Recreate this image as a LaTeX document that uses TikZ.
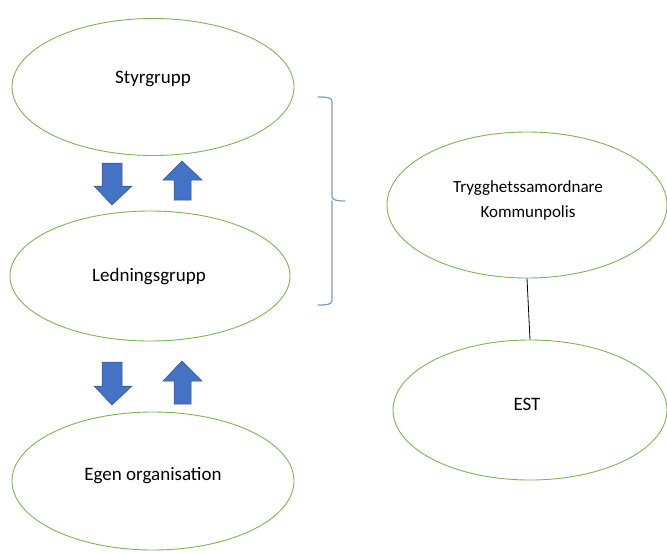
\documentclass[tikz,border=0pt]{standalone}
\usepackage{fontspec}
\setmainfont{Carlito}
\usetikzlibrary{shapes.geometric}
\definecolor{ellgreen}{RGB}{125,180,85}
\definecolor{arrowblue}{RGB}{68,114,196}
\definecolor{arrowedge}{RGB}{47,82,143}
\definecolor{bracecol}{RGB}{125,155,190}
\begin{document}
\begin{tikzpicture}[x=1pt,y=-1pt,
  oval/.style={draw=ellgreen,line width=0.9pt,ellipse,inner sep=0pt},
  bigtext/.style={font=\fontsize{19}{23}\selectfont,inner sep=0pt},
  smalltext/.style={font=\fontsize{17}{25}\selectfont,inner sep=0pt,align=center},
  blockarrow/.style={fill=arrowblue,draw=arrowedge,line width=0.5pt,line join=miter}]
\useasboundingbox (0,0) rectangle (667,552);
\node[oval,minimum width=282pt,minimum height=137pt] (styr) at (153,87) {};
\node[bigtext] (styrtext) at (153,79) {Styrgrupp};
\node[oval,minimum width=280pt,minimum height=130pt] (led) at (150,276) {};
\node[bigtext] (ledtext) at (149,277) {Ledningsgrupp};
\node[oval,minimum width=282pt,minimum height=138pt] (egen) at (153,481) {};
\node[bigtext] (egentext) at (153,476) {Egen organisation};
\node[oval,minimum width=280pt,minimum height=146pt] (tryg) at (527,205) {};
\node[smalltext] (trygtext) at (528,200) {Trygghetssamordnare\\Kommunpolis};
\node[oval,minimum width=274pt,minimum height=140pt] (est) at (530,410) {};
\node[bigtext] (esttext) at (527,404) {EST};
\draw[line width=0.8pt] (tryg.south) -- (est.north);
% block arrows between Styrgrupp and Ledningsgrupp
\draw[blockarrow] (102,163) -- (122,163) -- (122,186) -- (132,186) -- (112,205) -- (94,186) -- (102,186) -- cycle;
\draw[blockarrow] (174,200) -- (191,200) -- (191,180) -- (202,180) -- (182,161) -- (163,180) -- (174,180) -- cycle;
% block arrows between Ledningsgrupp and Egen organisation
\draw[blockarrow] (102,362) -- (122,362) -- (122,386) -- (132,386) -- (112,405) -- (94,386) -- (102,386) -- cycle;
\draw[blockarrow] (174,404) -- (191,404) -- (191,381) -- (202,381) -- (182,361) -- (163,381) -- (174,381) -- cycle;
% brace
\draw[bracecol,line width=1.2pt,line cap=round]
  (318,97) .. controls (326,97) and (332,97) .. (332,102) -- (332,196)
  .. controls (332,200) and (336,201) .. (345,201)
  (332,201) .. controls (332,202) and (332,204) .. (332,206) -- (332,300)
  .. controls (332,305) and (326,305) .. (318,305);
\end{tikzpicture}
\end{document}
